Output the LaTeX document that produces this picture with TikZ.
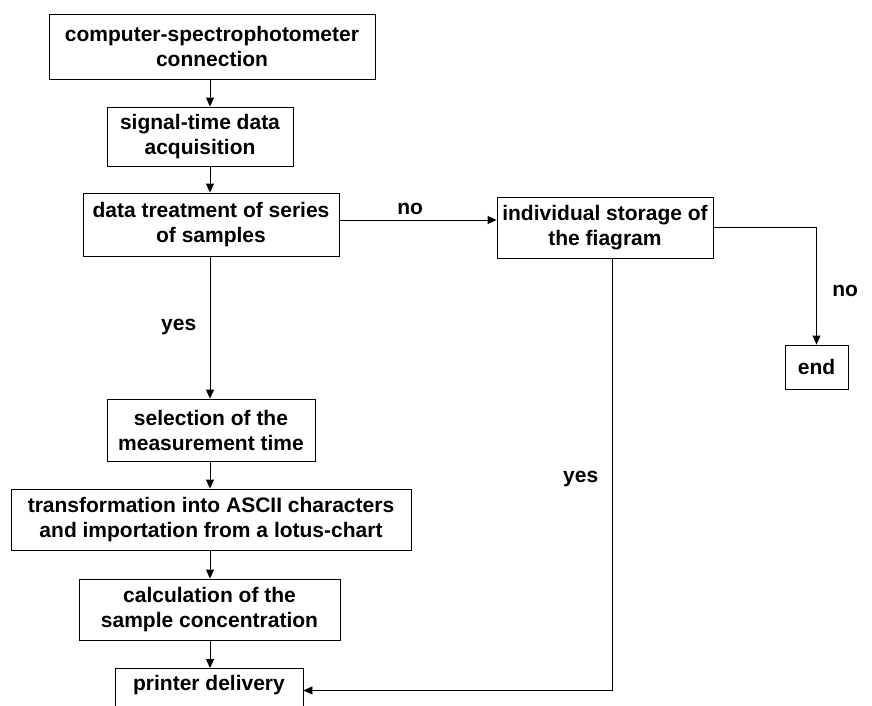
\documentclass[tikz,border=0pt]{standalone}
\usepackage{fontspec}
\setmainfont{Liberation Sans}
\usetikzlibrary{arrows.meta}

\begin{document}
\begin{tikzpicture}[x=1pt,y=-1pt,line width=0.9pt,>={Triangle[length=9pt,width=8pt]}]
	\tikzstyle{stage}=[draw,inner sep=0pt,align=center,font=\bfseries\fontsize{21}{25}\selectfont];
	\tikzstyle{tag}=[font=\bfseries\fontsize{21}{25}\selectfont];
	\useasboundingbox (0,0) rectangle (872,705);

	% main column
	\coordinate (spine) at (210,0);
	\node[stage,minimum width=326pt,minimum height=65pt] (conn) at (212,46.5) {computer-spectrophotometer\\connection};
	\node[stage,minimum width=186pt,minimum height=59pt] (acq) at (200,136.5) {signal-time data\\acquisition};
	\node[stage,minimum width=256pt,minimum height=63pt] (treat) at (211,224.5) {data treatment of series\\of samples};
	\node[stage,minimum width=208pt,minimum height=62pt] (select) at (211,430) {selection of the\\measurement time};
	\node[stage,minimum width=400pt,minimum height=61pt] (ascii) at (211,519.5) {transformation into ASCII characters\\and importation from a lotus-chart};
	\node[stage,minimum width=261pt,minimum height=61pt] (calc) at (209.5,609.5) {calculation of the\\sample concentration};
	\node[stage,anchor=north,minimum width=188pt,text height=22pt,text depth=40pt] (print) at (209,668) {printer delivery};

	% side branch
	\node[stage,minimum width=216pt,minimum height=61pt] (store) at (605,227.5) {individual storage of\\the fiagram};
	\node[stage,minimum width=63pt,minimum height=44pt] (end) at (816.5,367) {end};

	\draw[->] (conn.south -| spine) -- (acq.north -| spine);
	\draw[->] (acq.south -| spine) -- (treat.north -| spine);
	\draw[->] (treat.south -| spine) -- node[tag,left=10pt,pos=0.5] (yes1) {yes} (select.north -| spine);
	\draw[->] (select.south -| spine) -- (ascii.north -| spine);
	\draw[->] (ascii.south -| spine) -- (calc.north -| spine);
	\draw[->] (calc.south -| spine) -- (print.north -| spine);

	\draw[->] ([yshift=4.5pt]treat.east) -- node[tag,above=2pt,pos=0.45] (no1) {no} ([yshift=4.5pt]treat.east -| store.west);
	\draw[->] (store.east) -| node[tag,pos=0.77,right=12pt] (no2) {no} (end.north);
	\draw[->] ([xshift=7pt]store.south) |- node[tag,pos=0.255,left=10pt] (yes2) {yes} (print.base east);
\end{tikzpicture}
\end{document}
